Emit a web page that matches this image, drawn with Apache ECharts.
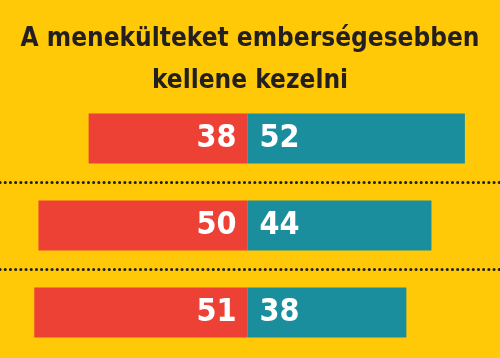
<!DOCTYPE html>
<html><head><meta charset="utf-8">
<script src="https://cdn.jsdelivr.net/npm/echarts@6/dist/echarts.min.js"></script>
<style>html,body{margin:0;padding:0;background:#FFC907;}#c{width:500px;height:358px;}</style>
</head><body><div id="c"></div>
<script>
const titleText = 'A menekülteket emberségesebben\nkellene kezelni';
const categories = ['Sor 1', 'Sor 2', 'Sor 3'];
const redValues = [38, 50, 51];
const tealValues = [52, 44, 38];

const FONT = "'DejaVu Sans Condensed', sans-serif";
const chart = echarts.init(document.getElementById('c'));
chart.setOption({
  backgroundColor: '#FFC907',
  animation: false,
  title: {
    text: titleText, left: 'center', top: 13,
    textStyle: { fontFamily: FONT, fontWeight: 'bold', fontSize: 26, lineHeight: 42, color: '#231F20' }
  },
  grid: { left: 0, right: 0, top: 95, bottom: 2 },
  xAxis: { type: 'value', min: -59.2, max: 60.4, show: false },
  yAxis: {
    type: 'category', data: categories, inverse: true,
    axisLine: { show: false }, axisTick: { show: false }, axisLabel: { show: false },
    splitLine: { show: true, interval: function (i) { return i === 1 || i === 2; },
      lineStyle: { color: ['#231F20', '#231F20', 'rgba(0,0,0,0)'], width: 3, type: [0.1, 5.1], cap: 'round' } }
  },
  series: [
    { name: 'red', type: 'bar', stack: 's', barWidth: 50,
      data: redValues.map(v => -v),
      itemStyle: { color: '#EE4136' },
      label: { show: true, position: 'insideRight', distance: 11, formatter: p => Math.abs(p.value),
        color: '#fff', fontFamily: FONT, fontWeight: 'bold', fontSize: 32 } },
    { name: 'teal', type: 'bar', stack: 's', barWidth: 50,
      data: tealValues,
      itemStyle: { color: '#1A8E9D' },
      label: { show: true, position: 'insideLeft', distance: 12,
        color: '#fff', fontFamily: FONT, fontWeight: 'bold', fontSize: 32 } }
  ]
});
</script></body></html>
